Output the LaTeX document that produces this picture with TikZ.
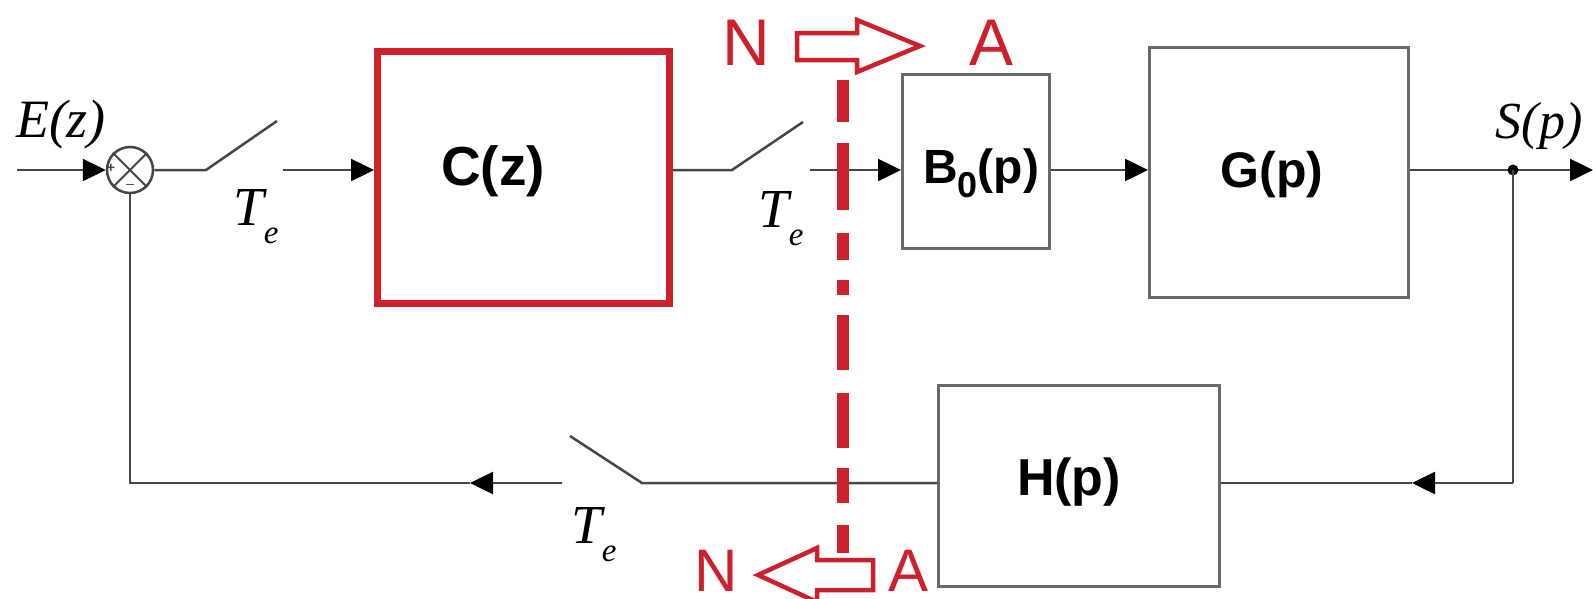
\documentclass[tikz,border=0pt]{standalone}
\usepackage{fontspec}
\setmainfont{Liberation Sans}
\newfontfamily\seriffam{Liberation Serif}
\usetikzlibrary{arrows.meta}
\definecolor{myred}{RGB}{204,32,44}
\definecolor{wirec}{RGB}{70,70,70}
\definecolor{boxc}{RGB}{105,105,105}
\newcommand{\Tsamp}{{\seriffam\itshape\fontsize{55}{55}\selectfont T\raisebox{-18pt}{\fontsize{33}{33}\selectfont e}}}
\begin{document}
\begin{tikzpicture}[x=1pt,y=-1pt,
  wire/.style={draw=wirec, line width=2.5pt},
  arr/.style={-{Triangle[length=23pt,width=22pt,color=black,fill=black]}},
  blk/.style={draw=boxc, line width=2.5pt, rectangle, inner sep=0pt, anchor=north west},
  redblk/.style={draw=myred, line width=7pt, rectangle, inner sep=0pt, anchor=north west},
  lab/.style={inner sep=0pt, anchor=base},
  redtxt/.style={inner sep=0pt, anchor=base, text=myred, font=\fontsize{66}{66}\selectfont},
  redtxtb/.style={inner sep=0pt, anchor=base, text=myred, font=\fontsize{60}{60}\selectfont},
  cutline/.style={draw=myred, line width=12pt},
  hollow/.style={draw=myred, line width=4.5pt, fill=white, line join=miter}
]
\fill[white] (0,0) rectangle (1593,598);
\useasboundingbox (0,0) rectangle (1593,598);

% blocks
\node[redblk, minimum width=292pt, minimum height=252pt] (C) at (374,48) {};
\node[blk, minimum width=147pt, minimum height=174pt] (B) at (901,73) {};
\node[blk, minimum width=259pt, minimum height=250pt] (G) at (1148,46) {};
\node[blk, minimum width=281pt, minimum height=201pt] (H) at (937,384) {};

\node[lab, font=\bfseries\fontsize{55}{55}\selectfont] (Ct) at (493,185) {C(z)};
\node[lab, font=\bfseries\fontsize{48}{48}\selectfont] (Bt) at (981,183) {B\raisebox{-14pt}{\fontsize{36}{36}\selectfont 0}(p)};
\node[lab, font=\bfseries\fontsize{50}{50}\selectfont] (Gt) at (1272,187) {G(p)};
\node[lab, font=\bfseries\fontsize{52}{52}\selectfont] (Ht) at (1069,495) {H(p)};

% summing junction
\node[circle, draw=wirec, line width=2.5pt, minimum size=46pt, inner sep=0pt] (S) at (130,170) {};
\draw[wirec, line width=2pt] (S.north west) -- (S.south east) (S.north east) -- (S.south west);
\node[inner sep=0pt, font=\bfseries\fontsize{14}{14}\selectfont, text=wirec] (plus) at (111,168) {+};
\node[inner sep=0pt, font=\fontsize{14}{14}\selectfont, text=wirec] (minus) at (130,186) {--};

% labels
\node[lab, font=\seriffam\itshape\fontsize{54}{54}\selectfont] (Ez) at (61,137) {E(z)};
\node[lab, font=\seriffam\itshape\fontsize{52}{52}\selectfont] (Sp) at (1539,138) {S(p)};
\node[lab] (Te1) at (256,225) {\Tsamp};
\node[lab] (Te2) at (781,227) {\Tsamp};
\node[lab] (Te3) at (594,543) {\Tsamp};

% coordinates
\coordinate (yl) at (0,170);
\coordinate (in) at (17,170);
\coordinate (s1p) at (206,170);
\coordinate (s1t) at (277,121);
\coordinate (s1o) at (283,170);
\coordinate (s2p) at (732,170);
\coordinate (s2t) at (803,122);
\coordinate (s2o) at (810,170);
\coordinate (out) at (1593,170);
\coordinate (fbc) at (1513,483);
\coordinate (fa) at (1412,483);
\coordinate (s3p) at (642,483);
\coordinate (s3t) at (570,436);
\coordinate (s3o) at (562,483);
\coordinate (la) at (470,483);
\coordinate (lc) at (130,483);

% forward path
\draw[wire, arr] (in) -- (S.west);
\draw[wire] (S.east) -- (s1p) -- (s1t);
\draw[wire, arr] (s1o) -- (s1o -| C.west);
\draw[wire] (C.east |- yl) -- (s2p) -- (s2t);
\draw[wire, arr] (s2o) -- (s2o -| B.west);
\draw[wire, arr] (B.east |- yl) -- (G.west |- yl);
\draw[wire, arr] (G.east |- yl) -- (out);
\node[circle, fill=black, inner sep=0pt, minimum size=11pt] (dot) at (1513,170) {};

% feedback path
\draw[wire] (dot.center) -- (fbc);
\draw[wire, arr] (fbc) -- (fa);
\draw[wire] (fa) -- (fa -| H.east);
\draw[wire] (fa -| H.west) -- (s3p) -- (s3t);
\draw[wire, arr] (s3o) -- (la);
\draw[wire] (la) -- (lc) -- (S.south);

% red cut line
\foreach \a/\b in {80/122,143/210,233/260,280/295,315/370,393/448,468/503,525/553}
  \draw[cutline] (843,\a) -- (843,\b);

% hollow arrows
\draw[hollow] (797,33) -- (857,33) -- (857,20) -- (920,46) -- (857,72) -- (857,60) -- (797,60) -- cycle;
\draw[hollow] (873,560) -- (817,560) -- (817,548) -- (758,575) -- (817,602) -- (817,590) -- (873,590) -- cycle;

\node[redtxt] (N1) at (746,65) {N};
\node[redtxt] (A1) at (991,65) {A};
\node[redtxtb] (N2) at (716,591) {N};
\node[redtxtb] (A2) at (908,591) {A};
\end{tikzpicture}
\end{document}
